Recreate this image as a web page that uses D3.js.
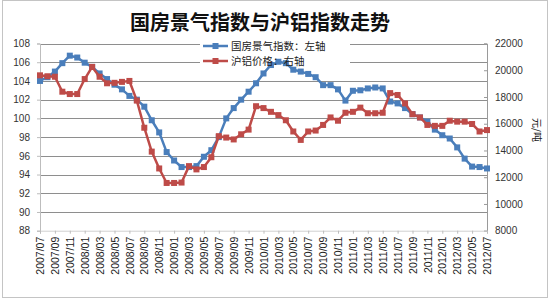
<!DOCTYPE html>
<html>
<head>
<meta charset="utf-8">
<script src="https://cdn.jsdelivr.net/npm/d3@7"></script>
<style>
  body { margin: 0; background: #fff; }
</style>
</head>
<body>
<script>
// 月份（类别）
const months = [
  "2007/07","2007/08","2007/09","2007/10","2007/11","2007/12",
  "2008/01","2008/02","2008/03","2008/04","2008/05","2008/06",
  "2008/07","2008/08","2008/09","2008/10","2008/11","2008/12",
  "2009/01","2009/02","2009/03","2009/04","2009/05","2009/06",
  "2009/07","2009/08","2009/09","2009/10","2009/11","2009/12",
  "2010/01","2010/02","2010/03","2010/04","2010/05","2010/06",
  "2010/07","2010/08","2010/09","2010/10","2010/11","2010/12",
  "2011/01","2011/02","2011/03","2011/04","2011/05","2011/06",
  "2011/07","2011/08","2011/09","2011/10","2011/11","2011/12",
  "2012/01","2012/02","2012/03","2012/04","2012/05","2012/06",
  "2012/07"
];

// 国房景气指数（左轴）
const fangIndex = [
  104.0, 104.4, 105.0, 105.9, 106.7, 106.5, 105.95, 105.5, 104.8, 104.2,
  103.6, 103.1, 102.4, 102.0, 101.25, 99.8, 98.5, 96.4, 95.5, 94.8,
  94.8, 94.9, 95.9, 96.6, 98.0, 100.0, 101.1, 102.0, 102.85, 103.75,
  104.8, 105.7, 106.05, 105.9, 105.2, 105.0, 104.75, 104.4, 103.55, 103.55,
  103.1, 101.9, 102.95, 103.0, 103.2, 103.3, 103.2, 101.8, 101.6, 101.1,
  100.45, 100.1, 99.65, 98.8, 98.2, 97.85, 96.9, 95.7, 94.85, 94.8,
  94.65
];

// 沪铝价格（右轴，元/吨）
const aluPrice = [
  19620, 19550, 19515, 18395, 18220, 18220, 19340, 20250, 19515, 19025,
  19060, 19130, 19200, 17730, 15700, 13915, 12655, 11570, 11570, 11600,
  12830, 12585, 12760, 13495, 15070, 14965, 14825, 15210, 15560, 17310,
  17170, 16890, 16645, 16260, 15420, 14790, 15420, 15490, 15910, 16470,
  16225, 16820, 16890, 17205, 16785, 16785, 16820, 18290, 18150, 17520,
  16715, 16470, 15910, 15840, 15840, 16225, 16155, 16155, 15980, 15420,
  15525
];

const leftTicks = [88, 90, 92, 94, 96, 98, 100, 102, 104, 106, 108];
const rightTicks = [8000, 10000, 12000, 14000, 16000, 18000, 20000, 22000];
const seriesNames = ["国房景气指数：左轴", "沪铝价格：右轴"];
const chartTitle = "国房景气指数与沪铝指数走势";
const unitLabel = "元/吨";

(function () {
  'use strict';

  var W = 550, H = 300;
  var plot = {left: 40, right: 487, top: 43.5, bottom: 230.7};
  var blue = "#4a7ebb", red = "#be4b48";

  var svg = d3.select("body").append("svg")
    .attr("width", W)
    .attr("height", H)
    .style("font-family", "'Liberation Sans', Arial, sans-serif");

  // 外框
  svg.append("rect")
    .attr("x", 2.5).attr("y", 0.5)
    .attr("width", 545).attr("height", 297)
    .attr("fill", "#fff")
    .attr("stroke", "#c4c4c4");

  // 比例尺
  let xScale = d3.scalePoint().domain(months).range([plot.left, plot.right]);
  let yLeft = d3.scaleLinear().domain([88, 108]).range([plot.bottom, plot.top]);
  let yRight = d3.scaleLinear().domain([8000, 22000]).range([plot.bottom, plot.top]);

  // 网格线
  svg.append("g").selectAll("line")
    .data(leftTicks.filter(d => d > 88))
    .enter().append("line")
    .attr("x1", plot.left).attr("x2", plot.right)
    .attr("y1", d => Math.round(yLeft(d)) + 0.5)
    .attr("y2", d => Math.round(yLeft(d)) + 0.5)
    .attr("stroke", "#8e8e8e")
    .attr("stroke-width", 1);

  // 左轴
  let leftAxis = d3.axisLeft(yLeft).tickValues(leftTicks).tickSize(3).tickPadding(7);
  let gL = svg.append("g")
    .attr("transform", "translate(" + plot.left + ",0)")
    .call(leftAxis);
  gL.select(".domain").attr("stroke", "#bdbdbd");
  gL.selectAll(".tick line").attr("stroke", "#bdbdbd");
  gL.selectAll("text").attr("font-size", "10px").attr("fill", "#333");

  // 右轴
  let rightAxis = d3.axisRight(yRight).tickValues(rightTicks).tickSize(-3).tickPadding(8)
    .tickFormat(d3.format("d"));
  let gR = svg.append("g")
    .attr("transform", "translate(" + plot.right + ",0)")
    .call(rightAxis);
  gR.select(".domain").attr("stroke", "#9a9a9a");
  gR.selectAll(".tick line").attr("stroke", "#9a9a9a");
  gR.selectAll("text").attr("font-size", "10px").attr("fill", "#333");

  // x轴
  let xTicks = months.filter((d, i) => i % 2 === 0);
  let xAxis = d3.axisBottom(xScale).tickValues(xTicks).tickSize(3).tickPadding(4);
  let gX = svg.append("g")
    .attr("transform", "translate(0," + plot.bottom + ")")
    .call(xAxis);
  gX.select(".domain").attr("stroke", "#d0d0d0");
  gX.selectAll(".tick line").attr("stroke", "#bdbdbd");
  gX.selectAll("text")
    .attr("font-size", "10.5px")
    .attr("fill", "#222")
    .attr("text-anchor", "end")
    .attr("transform", "rotate(-90)")
    .attr("x", -6)
    .attr("y", 0)
    .attr("dy", "0.35em");

  // 单位
  svg.append("text")
    .attr("transform", "translate(533,130) rotate(90)")
    .attr("text-anchor", "middle")
    .attr("font-size", "10px")
    .attr("font-family", "'Noto Sans CJK SC', sans-serif")
    .attr("fill", "#222")
    .text(unitLabel);

  // 图例底
  svg.append("rect")
    .attr("x", 200).attr("y", 38)
    .attr("width", 150).attr("height", 29)
    .attr("fill", "#fff");

  // 系列
  var series = [
    {name: seriesNames[0], values: fangIndex, y: yLeft, color: blue},
    {name: seriesNames[1], values: aluPrice, y: yRight, color: red}
  ];

  series.forEach(function (s) {
    let line = d3.line()
      .x((d, i) => xScale(months[i]))
      .y(d => s.y(d));
    svg.append("path")
      .datum(s.values)
      .attr("fill", "none")
      .attr("stroke", s.color)
      .attr("stroke-width", 2.5)
      .attr("stroke-linejoin", "round")
      .attr("d", line);
    svg.append("g").selectAll("rect")
      .data(s.values)
      .enter().append("rect")
      .attr("x", (d, i) => xScale(months[i]) - 3)
      .attr("y", d => s.y(d) - 3)
      .attr("width", 6).attr("height", 6)
      .attr("fill", s.color);
  });

  // 图例
  var legend = svg.append("g").selectAll("g")
    .data(series).enter().append("g")
    .attr("transform", (d, i) => "translate(203," + (46 + i * 15) + ")");
  legend.append("line")
    .attr("x1", 0).attr("x2", 25)
    .attr("stroke", d => d.color).attr("stroke-width", 2.5);
  legend.append("rect")
    .attr("x", 9.5).attr("y", -3).attr("width", 6).attr("height", 6)
    .attr("fill", d => d.color);
  legend.append("text")
    .attr("x", 28).attr("dy", "0.35em")
    .attr("font-size", "10.5px")
    .attr("font-family", "'Noto Sans CJK SC', sans-serif")
    .attr("fill", "#222")
    .text(d => d.name);

  // 标题
  svg.append("text")
    .attr("x", 260).attr("y", 30)
    .attr("text-anchor", "middle")
    .attr("font-size", "20px")
    .attr("font-weight", "bold")
    .attr("font-family", "'Noto Sans CJK SC', sans-serif")
    .attr("fill", "#111")
    .text(chartTitle);

})();
</script>
</body>
</html>
